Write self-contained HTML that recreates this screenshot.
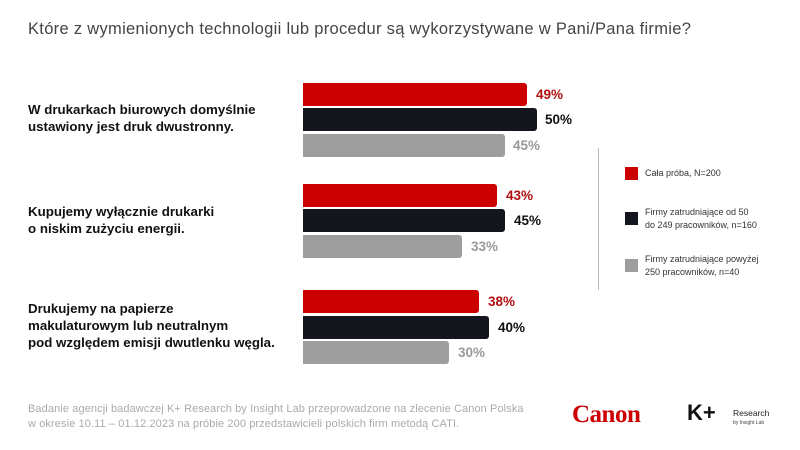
<!DOCTYPE html>
<html><head><meta charset="utf-8"><style>
body{margin:0;width:800px;height:450px;background:#fff;position:relative;overflow:hidden;font-family:"Liberation Sans",sans-serif}
.a{position:absolute}
.b{position:absolute;left:303px;height:23px;border-radius:0 3px 3px 0}
.r{background:#cc0000}.k{background:#14161e}.g{background:#9e9e9e}
.v{position:absolute;font-weight:bold;font-size:13.5px}
.q{position:absolute;font-weight:bold;font-size:13.3px;color:#111;line-height:17px}
.l{position:absolute;left:645px;font-size:9px;color:#333;line-height:13px}
.s{position:absolute;left:625px;width:13px;height:13px}
</style></head><body>
<div class="a" style="left:28px;top:20px;font-size:16.5px;color:#444;letter-spacing:0.3px">Które z wymienionych technologii lub procedur są wykorzystywane w Pani/Pana firmie?</div>

<div class="q" style="left:28px;top:101px">W drukarkach biurowych domyślnie<br>ustawiony jest druk dwustronny.</div>
<div class="q" style="left:28px;top:203px">Kupujemy wyłącznie drukarki<br>o niskim zużyciu energii.</div>
<div class="q" style="left:28px;top:300px">Drukujemy na papierze<br>makulaturowym lub neutralnym<br>pod względem emisji dwutlenku węgla.</div>

<div class="b r" style="top:83px;width:224px"></div><div class="v" style="left:536px;top:87px;color:#b01010">49%</div>
<div class="b k" style="top:108px;width:234px"></div><div class="v" style="left:545px;top:112px;color:#111">50%</div>
<div class="b g" style="top:134px;width:202px"></div><div class="v" style="left:513px;top:138px;color:#999">45%</div>

<div class="b r" style="top:184px;width:194px"></div><div class="v" style="left:506px;top:188px;color:#b01010">43%</div>
<div class="b k" style="top:209px;width:202px"></div><div class="v" style="left:514px;top:213px;color:#111">45%</div>
<div class="b g" style="top:235px;width:159px"></div><div class="v" style="left:471px;top:239px;color:#999">33%</div>

<div class="b r" style="top:290px;width:176px"></div><div class="v" style="left:488px;top:294px;color:#b01010">38%</div>
<div class="b k" style="top:316px;width:186px"></div><div class="v" style="left:498px;top:320px;color:#111">40%</div>
<div class="b g" style="top:341px;width:146px"></div><div class="v" style="left:458px;top:345px;color:#999">30%</div>

<div class="a" style="left:598px;top:148px;width:1px;height:142px;background:#bbb"></div>
<div class="s r" style="top:167px"></div><div class="l" style="top:167px">Cała próba, N=200</div>
<div class="s k" style="top:212px"></div><div class="l" style="top:206px">Firmy zatrudniające od 50<br>do 249 pracowników, n=160</div>
<div class="s g" style="top:259px"></div><div class="l" style="top:253px">Firmy zatrudniające powyżej<br>250 pracowników, n=40</div>

<div class="a" style="left:28px;top:402px;font-size:11px;color:#aaa;line-height:15px;letter-spacing:0.1px">Badanie agencji badawczej K+ Research by Insight Lab przeprowadzone na zlecenie Canon Polska<br>w okresie 10.11 – 01.12.2023 na próbie 200 przedstawicieli polskich firm metodą CATI.</div>
<div class="a" style="left:572px;top:401px;font-family:'Liberation Serif',serif;font-weight:bold;font-size:25px;color:#cc0000;letter-spacing:-0.5px">Canon</div>
<div class="a" style="left:687px;top:400px;font-weight:bold;font-size:22px;color:#111">K+</div>
<div class="a" style="left:733px;top:408px;font-size:8.5px;color:#222">Research</div>
<div class="a" style="left:733px;top:420px;font-size:5px;color:#444">by Insight Lab</div>
</body></html>
